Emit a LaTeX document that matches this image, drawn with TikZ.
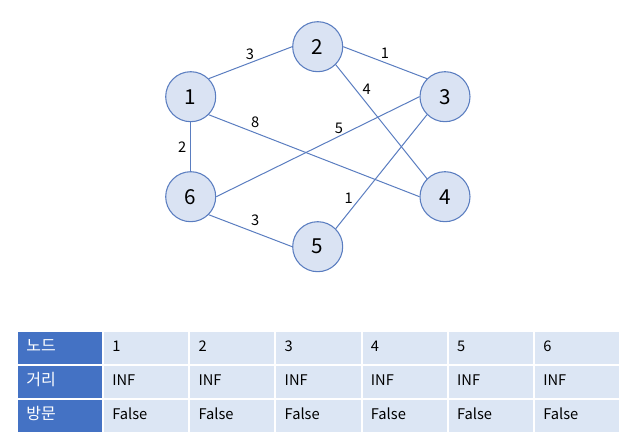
\documentclass[tikz,border=0pt]{standalone}
\usepackage{fontspec}
\setmainfont{Noto Sans CJK KR}
\definecolor{nodefill}{HTML}{DAE3F3}
\definecolor{edgeblue}{HTML}{5A7DC0}
\definecolor{headblue}{HTML}{4472C4}
\definecolor{cellblue}{HTML}{DCE6F4}
\tikzset{
  vertex/.style={circle, draw=edgeblue, fill=nodefill, line width=0.8pt,
    minimum size=37.5pt, inner sep=0pt, font=\fontsize{15.5}{15.5}\selectfont},
  wlabel/.style={inner sep=1pt, font=\fontsize{11}{11}\selectfont},
  edge/.style={draw=edgeblue, line width=0.75pt},
  cell/.style={rectangle, anchor=north west, draw=white, line width=1.5pt,
    fill=cellblue, minimum width=64.65pt, minimum height=25.5pt,
    inner xsep=7pt, inner ysep=0pt, text width=50.65pt, align=left,
    text height=8pt, text depth=3pt,
    font=\fontsize{11}{12}\selectfont},
  hcell/.style={cell, fill=headblue, text=white, text height=9pt,
    text depth=4pt, font=\fontsize{12}{12}\selectfont}
}
\begin{document}
\begin{tikzpicture}[x=0.75pt,y=-0.75pt]
    \useasboundingbox (0,0) rectangle (629,438);
    \node[vertex] (n1) at (190.7,96.7) {1};
    \node[vertex] (n2) at (317.7,46.7) {2};
    \node[vertex] (n3) at (445,96.7) {3};
    \node[vertex] (n4) at (445,196.7) {4};
    \node[vertex] (n5) at (317.7,246.7) {5};
    \node[vertex] (n6) at (190.7,196.7) {6};
    \draw[edge] (n1.north east) -- (n2.west);
    \draw[edge] (n2.east) -- (n3.north west);
    \draw[edge] (n2.south east) -- (n4.north west);
    \draw[edge] (n1.south east) -- (n4.west);
    \draw[edge] (n3.west) -- (n6.east);
    \draw[edge] (n1.south) -- (n6.north);
    \draw[edge] (n3.south west) -- (n5.north east);
    \draw[edge] (n6.south east) -- (n5.west);
    \node[wlabel] (w12) at (250,54) {3};
    \node[wlabel] (w23) at (385,53.3) {1};
    \node[wlabel] (w24) at (366.7,89.3) {4};
    \node[wlabel] (w14) at (255.3,122.7) {8};
    \node[wlabel] (w36) at (339,128.3) {5};
    \node[wlabel] (w16) at (182.3,146.7) {2};
    \node[wlabel] (w35) at (348.7,198.3) {1};
    \node[wlabel] (w65) at (255.3,220.7) {3};
    \foreach \lab [count=\r] in {노드,거리,방문} {
        \node[hcell] (h\r) at (16,{330+(\r-1)*34}) {\lab};
    }
    \foreach \v [count=\c] in {1,...,6} {
        \node[cell] (a\c) at ({102+(\c-1)*86.2},330) {\v};
        \node[cell] (b\c) at ({102+(\c-1)*86.2},364) {INF};
        \node[cell] (c\c) at ({102+(\c-1)*86.2},398) {False};
    }
\end{tikzpicture}
\end{document}
